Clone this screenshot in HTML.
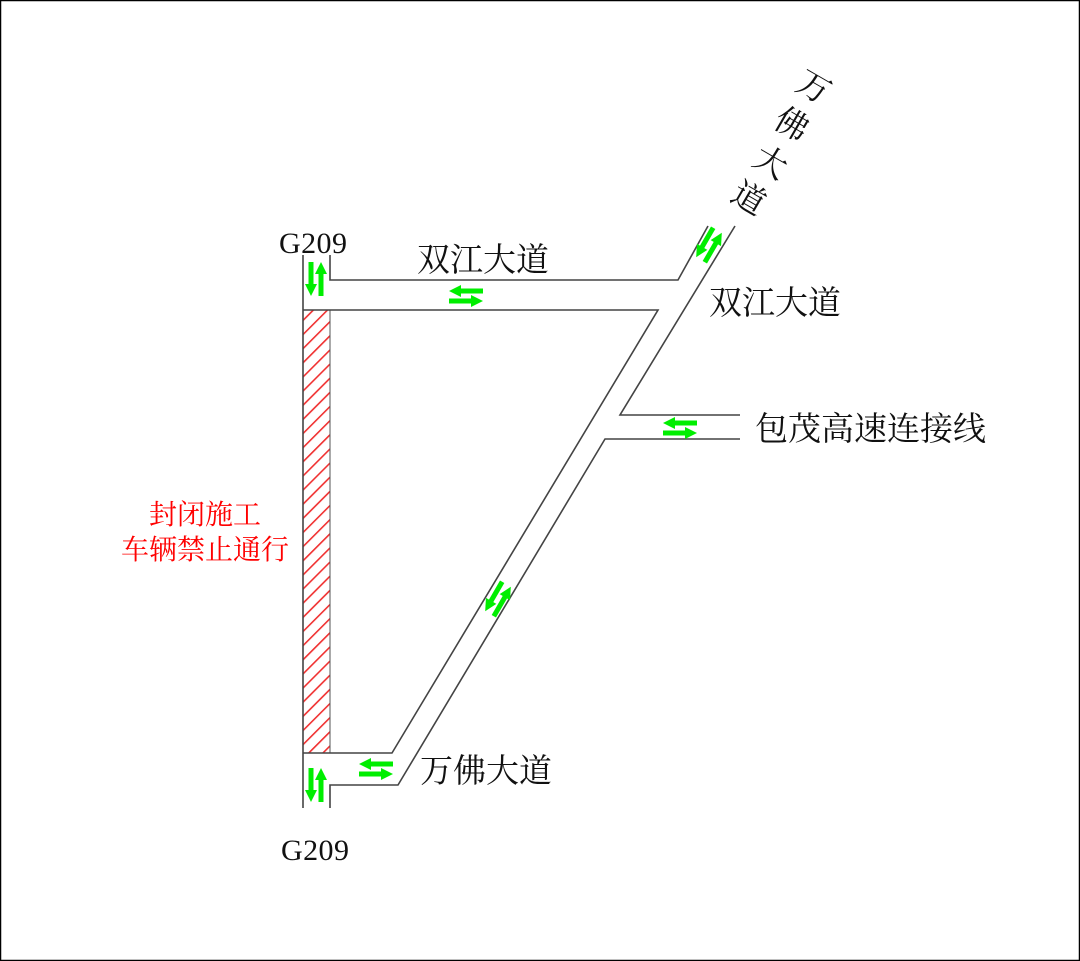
<!DOCTYPE html>
<html><head><meta charset="utf-8"><style>
html,body{margin:0;padding:0;background:#fff}
svg{display:block}
text{font-family:"Liberation Serif","Noto Serif CJK SC","Noto Sans CJK SC",serif}
</style></head><body>
<svg width="1080" height="961" viewBox="0 0 1080 961" xmlns="http://www.w3.org/2000/svg">
<defs>
<pattern id="h" width="10" height="10" patternUnits="userSpaceOnUse" patternTransform="rotate(45)">
<rect width="10" height="10" fill="#fff"/><rect x="0" y="0" width="1.6" height="10" fill="#f03030"/></pattern>
<g id="pair">
<rect x="-7" y="-7.5" width="24" height="5" fill="#00ee00"/>
<polygon points="-17,-5 -5,-11 -5,1" fill="#00ee00"/>
<rect x="-17" y="2.5" width="24" height="5" fill="#00ee00"/>
<polygon points="17,5 5,-1 5,11" fill="#00ee00"/>
</g>
</defs>
<rect x="0.5" y="0.5" width="1079" height="960" fill="#fff" stroke="#000" stroke-width="1.5"/>
<rect x="303" y="310" width="27" height="443" fill="url(#h)" stroke="#555" stroke-width="1"/>
<g stroke="#444" stroke-width="1.6" fill="none">
<line x1="303" y1="255" x2="303" y2="808"/>
<polyline points="330,255 330,280 678,280 708,226"/>
<polyline points="303,310 658,310 392,753 303,753"/>
<polyline points="330,808 330,785 398,785 605,439 740,439"/>
<polyline points="740,415 620,415 735,226"/>
</g>
<use href="#pair" x="466" y="296"/>
<use href="#pair" x="680" y="428"/>
<use href="#pair" x="376" y="769"/>
<use href="#pair" transform="translate(316,279) rotate(90)"/>
<use href="#pair" transform="translate(316,785) rotate(90)"/>
<use href="#pair" transform="translate(709,245) rotate(120)"/>
<use href="#pair" transform="translate(498,599) rotate(120)"/>
<g fill="#111">
<text x="279" y="253" font-size="30" textLength="68">G209</text>
<text x="281" y="860" font-size="30" textLength="68">G209</text>
<g font-size="33" style="font-family:'Noto Serif CJK SC','Noto Sans CJK SC',serif">
<text x="417" y="271">双江大道</text>
<text x="709" y="314">双江大道</text>
<text x="755" y="440">包茂高速连接线</text>
<text x="420" y="782">万佛大道</text>
<text transform="translate(808,97) rotate(30)" text-anchor="middle">万</text>
<text transform="translate(786,134) rotate(30)" text-anchor="middle">佛</text>
<text transform="translate(765,172) rotate(30)" text-anchor="middle">大</text>
<text transform="translate(743,208) rotate(30)" text-anchor="middle">道</text>
</g>
</g>
<g font-size="28" fill="#ff0000" style="font-family:'Noto Sans CJK SC','WenQuanYi Zen Hei',sans-serif" text-anchor="middle">
<text x="205" y="524">封闭施工</text>
<text x="205" y="559">车辆禁止通行</text>
</g>
</svg>
</body></html>
